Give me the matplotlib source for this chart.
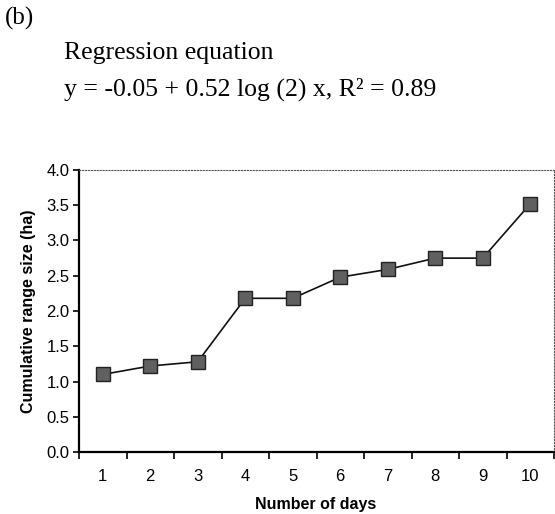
import numpy as np
import matplotlib.pyplot as plt

# cumulative range size per day
days = [1, 2, 3, 4, 5, 6, 7, 8, 9, 10]
range_size = [1.10, 1.22, 1.28, 2.18, 2.18, 2.48, 2.59, 2.75, 2.75, 3.52]
y_ticks = [0.0, 0.5, 1.0, 1.5, 2.0, 2.5, 3.0, 3.5, 4.0]

plt.rcParams['font.family'] = ['Liberation Sans', 'DejaVu Sans']

fig = plt.figure(figsize=(5.55, 5.14), dpi=100)
ax = fig.add_axes([79 / 555, 1 - 452 / 514, 475 / 555, 282 / 514])

ax.plot(days, range_size, color='#111111', lw=1.2, marker='s', markersize=10.5,
        markerfacecolor='#606060', markeredgecolor='#222222', markeredgewidth=1.0)

ax.set_xlim(0.5, 10.5)
ax.set_ylim(0, 4.0)
ax.set_yticks(y_ticks)
ax.set_yticklabels(['%.1f' % v for v in y_ticks])
# tick marks between categories, labels centred on each day
ax.set_xticks(np.arange(0.5, 11, 1))
ax.set_xticklabels([])
ax.set_xticks(days, minor=True)
ax.set_xticklabels([str(d) for d in days], minor=True)
ax.tick_params(axis='x', which='minor', length=0, pad=12, labelsize=12)
ax.tick_params(axis='x', which='major', length=5, width=1.2, direction='out')
ax.tick_params(axis='y', length=4, width=1.2, labelsize=12, pad=3)

for s in ['left', 'bottom']:
    ax.spines[s].set_linewidth(1.6)
for s in ['top', 'right']:
    ax.spines[s].set_linewidth(0.8)
    ax.spines[s].set_linestyle(':')
    ax.spines[s].set_color('#555555')

ax.set_ylabel('Cumulative range size (ha)', fontsize=11.5, fontweight='bold', labelpad=7)
fig.text(316 / 555, 1 - 505 / 514, 'Number of days', fontsize=11.5, fontweight='bold',
         ha='center', va='center')

fig.text(5 / 555, 1 - 18 / 514, '(b)', family='Liberation Serif', fontsize=18, va='center')
fig.text(64 / 555, 1 - 53 / 514, 'Regression equation', family='Liberation Serif',
         fontsize=18.5, va='center')
fig.text(64 / 555, 1 - 89 / 514, 'y = -0.05 + 0.52 log (2) x, R\u00b2 = 0.89',
         family='Liberation Serif', fontsize=18.5, va='center')

fig.savefig('out.png', dpi=100)
